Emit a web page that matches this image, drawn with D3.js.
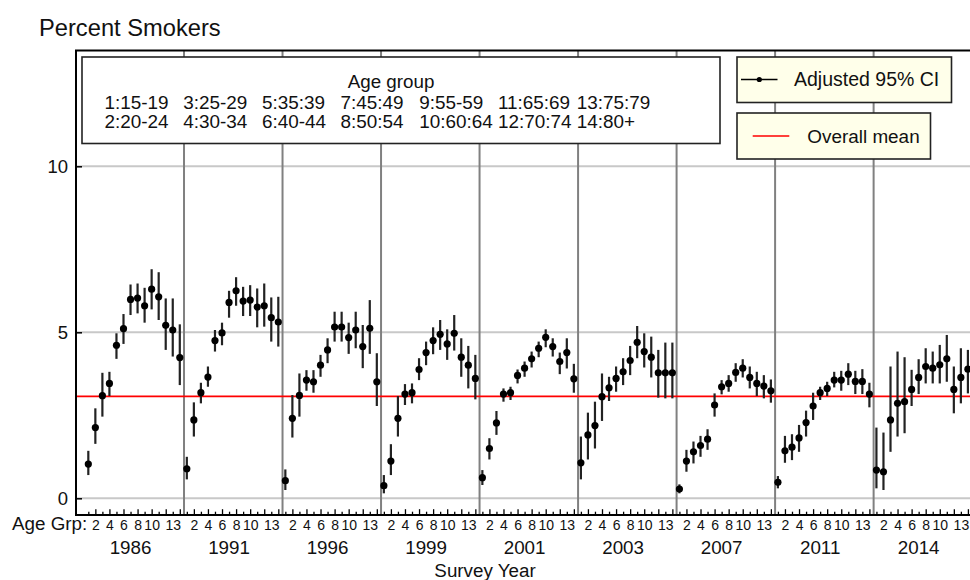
<!DOCTYPE html>
<html>
<head>
<meta charset="utf-8">
<script src="https://cdn.jsdelivr.net/npm/d3@7"></script>
<style>
  html, body { margin: 0; padding: 0; background: #fff; }
  svg { display: block; font-family: "Liberation Sans", Arial, sans-serif; }
  text { fill: #111; }
</style>
</head>
<body>
<svg id="chart" width="970" height="580"></svg>
<script>
// ---------------- data ----------------
const years = ["1986","1991","1996","1999","2001","2003","2007","2011","2014"];
const ageGroups = [1,2,3,4,5,6,7,8,9,10,11,12,13,14];
const ageGroupLabels = ["1:15-19","2:20-24","3:25-29","4:30-34","5:35:39","6:40-44","7:45:49",
  "8:50:54","9:55-59","10:60:64","11:65:69","12:70:74","13:75:79","14:80+"];
const ageTickLabels = [2,4,6,8,10,13];
const yTicks = [0,5,10];
const overallMean = 3.07;

const est1986 = [1.03,2.13,3.09,3.46,4.61,5.11,5.99,6.03,5.80,6.30,6.07,5.21,5.07,4.24];
const lo1986  = [0.70,1.64,2.46,3.08,4.20,4.65,5.52,5.57,5.29,5.69,5.37,4.47,4.27,3.41];
const hi1986  = [1.43,2.71,3.78,3.81,4.97,5.55,6.44,6.47,6.34,6.90,6.81,6.02,6.02,5.24];

const est1991 = [0.89,2.36,3.18,3.65,4.75,4.98,5.90,6.25,5.94,5.97,5.76,5.80,5.44,5.31];
const lo1991  = [0.57,1.86,2.86,3.36,4.42,4.61,5.44,5.80,5.49,5.49,5.15,5.17,4.72,4.57];
const hi1991  = [1.25,2.89,3.48,3.97,5.07,5.29,6.25,6.66,6.37,6.42,6.32,6.47,6.05,6.07];

const est1996 = [0.53,2.41,3.10,3.56,3.51,4.01,4.47,5.16,5.16,4.84,5.07,4.57,5.12,3.51];
const lo1996  = [0.25,1.83,2.46,3.24,3.18,3.66,4.07,4.72,4.72,4.35,4.52,3.92,4.35,2.78];
const hi1996  = [0.87,3.11,3.76,3.86,3.86,4.32,4.82,5.62,5.62,5.29,5.62,5.22,5.97,4.37];

const est1999 = [0.38,1.12,2.41,3.14,3.18,3.88,4.39,4.75,4.94,4.65,4.97,4.25,4.01,3.61];
const lo1999  = [0.15,0.70,1.86,2.81,2.86,3.56,4.01,4.34,4.47,4.17,4.45,3.66,3.31,2.98];
const hi1999  = [0.70,1.63,3.08,3.44,3.46,4.22,4.72,5.15,5.37,5.09,5.52,4.82,4.59,4.32];

const est2001 = [0.62,1.50,2.27,3.14,3.18,3.70,3.92,4.20,4.52,4.85,4.57,4.12,4.39,3.60];
const lo2001  = [0.40,1.17,1.91,2.91,2.96,3.46,3.66,3.94,4.25,4.55,4.27,3.74,3.91,3.18];
const hi2001  = [0.85,1.81,2.63,3.31,3.36,3.88,4.12,4.42,4.72,5.09,4.82,4.39,4.82,4.05];

const est2003 = [1.07,1.91,2.19,3.06,3.33,3.61,3.81,4.15,4.70,4.42,4.25,3.78,3.78,3.78];
const lo2003  = [0.57,1.17,1.50,2.33,2.93,3.21,3.41,3.71,4.22,3.94,3.64,3.03,3.01,3.01];
const hi2003  = [1.86,2.58,2.91,3.76,3.66,3.97,4.22,4.59,5.19,4.97,4.87,4.47,4.69,4.69];

const est2007 = [0.28,1.12,1.40,1.59,1.78,2.81,3.36,3.46,3.79,3.92,3.64,3.46,3.38,3.24];
const lo2007  = [0.15,0.80,1.05,1.25,1.46,2.46,3.13,3.21,3.51,3.64,3.31,3.08,3.01,2.88];
const hi2007  = [0.42,1.46,1.71,1.88,2.08,3.16,3.56,3.71,4.07,4.19,3.97,3.81,3.71,3.58];

const est2011 = [0.48,1.43,1.54,1.82,2.28,2.78,3.18,3.31,3.56,3.56,3.74,3.52,3.52,3.14];
const lo2011  = [0.30,1.07,1.15,1.40,1.86,2.36,2.96,3.08,3.34,3.24,3.41,3.14,3.14,2.74];
const hi2011  = [0.67,1.88,1.93,2.21,2.64,3.18,3.36,3.51,3.81,3.84,4.07,3.84,3.89,3.48];

const est2014 = [0.85,0.80,2.36,2.86,2.91,3.28,3.64,3.97,3.92,4.02,4.20,3.28,3.64,3.89];
const lo2014  = [0.30,0.25,1.40,1.86,1.96,2.78,3.14,3.46,3.46,3.46,3.51,2.56,2.86,3.16];
const hi2014  = [2.13,1.98,3.97,4.42,4.25,3.87,4.19,4.52,4.42,4.62,4.92,3.97,4.52,4.47];

const estimates = [est1986, est1991, est1996, est1999, est2001, est2003, est2007, est2011, est2014];
const lowers    = [lo1986, lo1991, lo1996, lo1999, lo2001, lo2003, lo2007, lo2011, lo2014];
const uppers    = [hi1986, hi1991, hi1996, hi1999, hi2001, hi2003, hi2007, hi2011, hi2014];

// ---------------- layout ----------------
const svg = d3.select("#chart");
const L = 76, R = 976, T = 50.5, B = 515;
const FONT = "Liberation Sans, Arial, sans-serif";
const nAge = ageGroups.length;
const x = d3.scaleLinear().domain([-0.75, 127.15]).range([L, R]);
const y = d3.scaleLinear().domain([-0.503, 13.488]).range([B, T]);
const idx = (p, a) => p * nAge + a;

const rows = [];
years.forEach((yr, p) => ageGroups.forEach((a, k) => {
  rows.push({p, a, est: estimates[p][k], lo: lowers[p][k], hi: uppers[p][k]});
}));

// title
svg.append("text").attr("x", 39).attr("y", 36).attr("font-size", 23.7).text("Percent Smokers");

// horizontal gridlines
svg.append("g").selectAll("line").data(yTicks).join("line")
  .attr("x1", L).attr("x2", 975).attr("y1", d => y(d)).attr("y2", d => y(d))
  .attr("stroke", "#c8c8c8").attr("stroke-width", 2);

// panel separators
svg.append("g").selectAll("line").data(d3.range(1, years.length)).join("line")
  .attr("x1", p => x(idx(p, 0.6))).attr("x2", p => x(idx(p, 0.6)))
  .attr("y1", T).attr("y2", B)
  .attr("stroke", "#808080").attr("stroke-width", 2);

// overall mean
svg.append("line").attr("x1", L).attr("x2", 975)
  .attr("y1", y(overallMean)).attr("y2", y(overallMean))
  .attr("stroke", "#ff0000").attr("stroke-width", 1.6);

// error bars
svg.append("g").selectAll("line").data(rows).join("line")
  .attr("x1", d => x(idx(d.p, d.a))).attr("x2", d => x(idx(d.p, d.a)))
  .attr("y1", d => y(d.lo)).attr("y2", d => y(d.hi))
  .attr("stroke", "#222").attr("stroke-width", 2.2);

// points
svg.append("g").selectAll("circle").data(rows).join("circle")
  .attr("cx", d => x(idx(d.p, d.a))).attr("cy", d => y(d.est))
  .attr("r", 3.6).attr("fill", "#000");

// y axis
const yAxis = svg.append("g").attr("transform", `translate(${L},0)`)
  .call(d3.axisLeft(y).tickValues(yTicks).tickSize(-6).tickPadding(8));
yAxis.select(".domain").remove();
yAxis.selectAll(".tick line").attr("stroke", "#000").attr("stroke-width", 1.5);
yAxis.selectAll("text").attr("font-size", 18.5).attr("font-family", FONT).attr("fill", "#111");

// bottom ticks
const allIdx = [];
years.forEach((yr, p) => ageGroups.forEach(a => allIdx.push(idx(p, a))));
const minorAx = svg.append("g").attr("transform", `translate(0,${B})`)
  .call(d3.axisBottom(x).tickValues(allIdx.filter(i => ((i - 1) % nAge + 1) % 2 === 1)).tickSize(-3.3).tickFormat(""));
const majorAx = svg.append("g").attr("transform", `translate(0,${B})`)
  .call(d3.axisBottom(x).tickValues(allIdx.filter(i => ((i - 1) % nAge + 1) % 2 === 0)).tickSize(-5.8).tickFormat(""));
[minorAx, majorAx].forEach(g => {
  g.select(".domain").remove();
  g.selectAll(".tick line").attr("stroke", "#000").attr("stroke-width", 1.3);
});
const labIdx = [];
years.forEach((yr, p) => ageTickLabels.forEach(a => labIdx.push(idx(p, a))));
const labAx = svg.append("g").attr("transform", `translate(0,${B})`)
  .call(d3.axisBottom(x).tickValues(labIdx).tickSize(0).tickPadding(5.2)
    .tickFormat(i => String((i - 1) % nAge + 1)));
labAx.select(".domain").remove();
labAx.selectAll("text").attr("font-size", 14).attr("font-family", FONT).attr("fill", "#111");

svg.append("text").attr("x", x(0.85)).attr("y", 530).attr("text-anchor", "end")
  .attr("font-size", 18.8).text("Age Grp:");

// year labels
svg.append("g").selectAll("text").data(years).join("text")
  .attr("x", (d, p) => x(idx(p, 7))).attr("y", 554).attr("text-anchor", "middle")
  .attr("font-size", 18.8).text(d => d);

svg.append("text").attr("x", 485).attr("y", 576.5).attr("text-anchor", "middle")
  .attr("font-size", 18.8).text("Survey Year");

// frame
svg.append("path").attr("d", `M975,${T}H${L}V${B}H975`)
  .attr("fill", "none").attr("stroke", "#000").attr("stroke-width", 2);

// age group legend
const lg = svg.append("g");
lg.append("rect").attr("x", 82).attr("y", 57).attr("width", 638).attr("height", 86.5)
  .attr("fill", "#fff").attr("stroke", "#222").attr("stroke-width", 1.6);
lg.append("text").attr("x", 391).attr("y", 88).attr("text-anchor", "middle")
  .attr("font-size", 18.8).text("Age group");
lg.selectAll("text.ag").data(ageGroupLabels).join("text").attr("class", "ag")
  .attr("x", (d, i) => 104.5 + Math.floor(i / 2) * 78.7)
  .attr("y", (d, i) => i % 2 === 0 ? 109.3 : 128.3)
  .attr("font-size", 18.9).text(d => d);

// CI legend
const l1 = svg.append("g");
l1.append("rect").attr("x", 737).attr("y", 57).attr("width", 214.5).attr("height", 45.5)
  .attr("fill", "#ffffea").attr("stroke", "#222").attr("stroke-width", 1.6);
l1.append("line").attr("x1", 741).attr("x2", 777.5).attr("y1", 79.5).attr("y2", 79.5)
  .attr("stroke", "#000").attr("stroke-width", 1.5);
l1.append("circle").attr("cx", 759.3).attr("cy", 79.5).attr("r", 2.6).attr("fill", "#000");
l1.append("text").attr("x", 794).attr("y", 86).attr("font-size", 19.5).text("Adjusted 95% CI");

const l2 = svg.append("g");
l2.append("rect").attr("x", 737).attr("y", 113).attr("width", 193.5).attr("height", 46)
  .attr("fill", "#ffffea").attr("stroke", "#222").attr("stroke-width", 1.6);
l2.append("line").attr("x1", 752.7).attr("x2", 789.3).attr("y1", 136).attr("y2", 136)
  .attr("stroke", "#ff0000").attr("stroke-width", 1.5);
l2.append("text").attr("x", 807.3).attr("y", 142.5).attr("font-size", 18.9).text("Overall mean");
</script>
</body>
</html>
